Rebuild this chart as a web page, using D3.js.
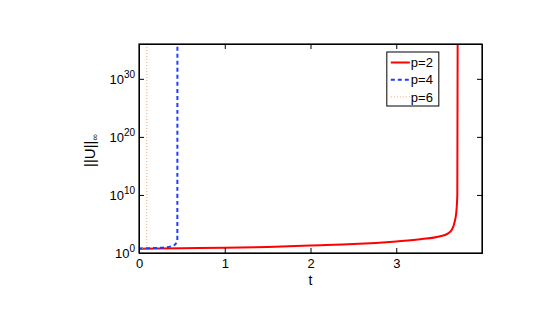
<!DOCTYPE html>
<html>
<head>
<meta charset="utf-8">
<script src="https://cdn.jsdelivr.net/npm/d3@7"></script>
<style>
  body { margin: 0; background: #fff; }
  text { font-family: "Liberation Sans", Arial, Helvetica, sans-serif; }
  .axis path, .axis line { stroke: #000; }
</style>
</head>
<body>
<div id="chart"></div>
<script>
// values
const seriesNames = ["p=2", "p=4", "p=6"];

const tP2 = [0, 0.5, 1, 1.5, 2, 2.5, 3, 3.3, 3.5, 3.6, 3.65, 3.68, 3.70, 3.712, 3.716];
const uP2 = [5.3, 6.5, 8.3, 11, 20, 35, 100, 250, 700, 2200, 1.1e4, 2e5, 1e7, 1e10, 1e36];

const tP4 = [0, 0.1, 0.2, 0.3, 0.38, 0.42, 0.44, 0.447, 0.448];
const uP4 = [6, 6.5, 7.5, 9, 15, 28, 80, 140, 1e36];

const tP6 = [0, 0.04, 0.07, 0.085, 0.09, 0.091];
const uP6 = [6, 6.5, 7.5, 9, 20, 1e36];

const xTicks = [0, 1, 2, 3, 4];
const xTickLabels = ["0", "1", "2", "3", ""];
const yTicks = [1e0, 1e10, 1e20, 1e30];
const yTickExp = ["0", "10", "20", "30"];

const margin = {top: 44, left: 139, right: 72, bottom: 77},
  width = 554 - margin.left - margin.right,
  height = 330 - margin.top - margin.bottom;

const series = [
  {name: seriesNames[0], t: tP2, u: uP2, color: "#ff0000", width: 2, dash: null},
  {name: seriesNames[1], t: tP4, u: uP4, color: "#1f3dff", width: 2, dash: "4,3"},
  {name: seriesNames[2], t: tP6, u: uP6, color: "#f4a261", width: 1, dash: "1,2"}
];

let svg = d3.select("#chart")
  .append("svg")
    .attr("width", 554)
    .attr("height", 330);

svg = svg.append("g")
    .attr("transform", "translate(" + margin.left + "," + margin.top + ")");

const xScale = d3.scaleLinear().domain([0, 4]).range([0, width]);
const yScale = d3.scaleLog().domain([1, 1e36]).range([height, 0]);

svg.append("clipPath")
    .attr("id", "plot-clip")
  .append("rect")
    .attr("width", width)
    .attr("height", height);

const line = d3.line()
  .curve(d3.curveMonotoneX)
  .x(d => xScale(d[0]))
  .y(d => yScale(d[1]));

// lines first, frame drawn on top
svg.append("g")
    .attr("clip-path", "url(#plot-clip)")
  .selectAll("path")
  .data(series)
  .enter()
  .append("path")
    .attr("fill", "none")
    .attr("stroke", d => d.color)
    .attr("stroke-width", d => d.width)
    .attr("stroke-dasharray", d => d.dash)
    .attr("d", d => line(d.t.map((t, i) => [t, d.u[i]])));

// bottom axis
const xAxis = svg.append("g")
    .attr("class", "axis")
    .attr("transform", "translate(0," + height + ")")
    .call(d3.axisBottom(xScale)
      .tickValues(xTicks)
      .tickFormat((d, i) => xTickLabels[i])
      .tickSize(-5)
      .tickPadding(6));
xAxis.selectAll("text").attr("font-size", 13).attr("fill", "#000");

// top axis, ticks only
svg.append("g")
    .attr("class", "axis")
    .call(d3.axisTop(xScale).tickValues(xTicks).tickFormat("").tickSize(-5));

// left axis with 10^n labels
const yAxis = svg.append("g")
    .attr("class", "axis")
    .call(d3.axisLeft(yScale)
      .tickValues(yTicks)
      .tickFormat("")
      .tickSize(-5)
      .tickPadding(4));

yAxis.selectAll(".tick text")
    .attr("fill", "#000")
    .attr("font-size", 13)
    .attr("dy", "0.36em")
    .each(function(d, i) {
      const t = d3.select(this);
      t.append("tspan").text("10");
      t.append("tspan").attr("font-size", 10).attr("dy", "-0.65em").text(yTickExp[i]);
    });

// right axis, ticks only
svg.append("g")
    .attr("class", "axis")
    .attr("transform", "translate(" + width + ",0)")
    .call(d3.axisRight(yScale).tickValues(yTicks).tickFormat("").tickSize(-5));

// frame
svg.append("rect")
    .attr("width", width)
    .attr("height", height)
    .attr("fill", "none")
    .attr("stroke", "#000")
    .attr("stroke-width", 1.2);

// axis labels
svg.append("text")
    .attr("x", xScale(2))
    .attr("y", height + 32)
    .attr("text-anchor", "middle")
    .attr("font-size", 14)
    .text("t");

const yLabel = svg.append("text")
    .attr("transform", "translate(-44," + (yScale(1e18) + 2) + ") rotate(-90)")
    .attr("text-anchor", "middle")
    .attr("font-size", 15);
yLabel.append("tspan").text("||U||");
yLabel.append("tspan").attr("font-size", 9).attr("dy", "0.3em").text("∞");

// legend
const legend = svg.append("g")
    .attr("transform", "translate(" + (xScale(2.89)) + "," + 8 + ")");

legend.append("rect")
    .attr("width", 52)
    .attr("height", 54)
    .attr("fill", "#fff")
    .attr("stroke", "#000")
    .attr("stroke-width", 1);

const entries = legend.selectAll("g.entry")
  .data(series)
  .enter()
  .append("g")
    .attr("class", "entry")
    .attr("transform", (d, i) => "translate(0," + (10.5 + i * 17.2) + ")");

entries.append("line")
    .attr("x1", 4)
    .attr("x2", 23)
    .attr("stroke", d => d.color)
    .attr("stroke-width", d => d.width)
    .attr("stroke-dasharray", d => d.dash);

entries.append("text")
    .attr("x", 24)
    .attr("dy", "0.36em")
    .attr("font-size", 13)
    .text(d => d.name);
</script>
</body>
</html>
